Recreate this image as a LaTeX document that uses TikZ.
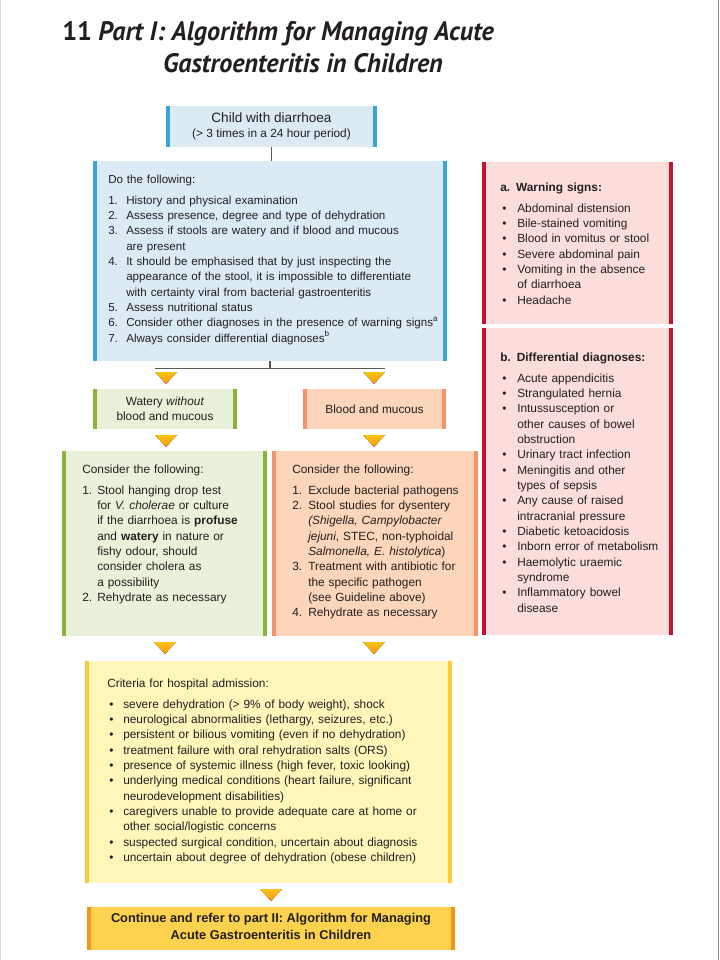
\documentclass[tikz,border=0pt]{standalone}
\usepackage{fontspec}
\setmainfont{Liberation Sans}
\newfontfamily\titlefont{PT Sans}
\usepackage{graphicx}
\usepackage{enumitem}
\usetikzlibrary{fit,calc,positioning}
\definecolor{aebluefill}{HTML}{DCEAF4}
\definecolor{aeblue}{HTML}{3AA6D6}
\definecolor{aegreenfill}{HTML}{EAF1DA}
\definecolor{aegreen}{HTML}{8CB43A}
\definecolor{aesalmonfill}{HTML}{FCD5BA}
\definecolor{aesalmon}{HTML}{F5936B}
\definecolor{aeyellowfill}{HTML}{FFF6BA}
\definecolor{aeyellow}{HTML}{FDCB3C}
\definecolor{aegoldfill}{HTML}{FDD24F}
\definecolor{aeorange}{HTML}{F7941D}
\definecolor{aepinkfill}{HTML}{FBDDDC}
\definecolor{aered}{HTML}{C4122F}
\definecolor{aetext}{HTML}{231F20}
\setlist[enumerate]{nosep, topsep=4.25pt, label=\arabic*., align=left, labelsep=0pt, labelindent=0pt}
\setlist[itemize]{nosep, topsep=4.25pt, label=\textbullet, align=left, labelsep=0pt}

\begin{document}
\begin{tikzpicture}[
  x=0.75pt, y=-0.75pt,
  panel/.style 2 args={fill=#1, inner sep=0pt, path picture={
      \fill[#2] (path picture bounding box.south west) rectangle ([xshift=3pt]path picture bounding box.north west);
      \fill[#2] (path picture bounding box.south east) rectangle ([xshift=-3pt]path picture bounding box.north east);}},
  txt/.style={inner sep=0pt, align=left, text=aetext, font=\fontsize{8.9}{11.5}\selectfont},
  link/.style={draw=black!65, line width=0.8pt},
  tri/.style={top color=aeorange!55!yellow, bottom color=aeorange},
  heading/.style={inner sep=0pt, text=aetext, font=\titlefont\bfseries\fontsize{20}{24}\selectfont}
]
\useasboundingbox (0,0) rectangle (720,960);
\fill[white] (0,0) rectangle (720,960);
\draw[black!15, line width=0.75pt] (0.5,0) -- (0.5,960);
\draw[black!45, line width=0.75pt] (718.5,0) -- (718.5,960);

% title
\node[heading, anchor=base west] (num) at (62,40) {\scalebox{0.98}[1]{11}};
\node[heading, anchor=base west] (title1) at (98,40) {\scalebox{0.98}[1]{\itshape Part I: Algorithm for Managing Acute}};
\node[heading, anchor=base] (title2) at (303,72) {\scalebox{0.98}[1]{\itshape Gastroenteritis in Children}};

% boxes
\node[panel={aebluefill}{aeblue}, fit={(166,106) (377,147)}] (child) {};
\node[panel={aebluefill}{aeblue}, fit={(93,161) (447,361)}] (todo) {};
\node[panel={aegreenfill}{aegreen}, fit={(93,389) (237,429)}] (watery) {};
\node[panel={aesalmonfill}{aesalmon}, fit={(303,389) (446,429)}] (blood) {};
\node[panel={aegreenfill}{aegreen}, fit={(62,451) (267,636)}] (conswat) {};
\node[panel={aesalmonfill}{aesalmon}, fit={(272,451) (478,636)}] (consblood) {};
\node[panel={aeyellowfill}{aeyellow}, fit={(85,661) (452,883)}] (criteria) {};
\node[panel={aegoldfill}{aeorange}, fit={(87,907) (455,950)}] (cont) {};
\node[panel={aepinkfill}{aered}, fit={(482,162) (673,324)}] (warn) {};
\node[panel={aepinkfill}{aered}, fit={(482,328) (673,635)}] (diff) {};

% connectors
\draw[link] (child) -- (child |- todo.north);
\draw[link] (todo.south) -- ++(0,7) coordinate (split);
\coordinate (t1) at (166,372);
\coordinate (t2) at (374,372);
\draw[link] ([xshift=-11*0.75pt]split -| t1) -- ([xshift=11*0.75pt]split -| t2);
\coordinate (t3) at (166,435);
\coordinate (t4) at (374,435);
\coordinate (t5) at (165,642);
\coordinate (t6) at (374,642);
\coordinate (t7) at (271,889);
\foreach \t in {t1,t2,t3,t4,t5,t6,t7}
  \fill[tri] (\t) +(-11,0) -- +(11,0) -- +(0,12) -- cycle;

% texts
\node[txt, align=center] (childtxt) at (child) {{\fontsize{10.2}{11.5}\selectfont Child with diarrhoea}\\(> 3 times in a 24 hour period)};

\node[txt, anchor=base west, text width=260pt, font=\fontsize{8.7}{11.5}\selectfont] (todotxt) at (108,183) {Do the following:
\begin{enumerate}[leftmargin=13.5pt, labelwidth=13.5pt]
\item History and physical examination
\item Assess presence, degree and type of dehydration
\item Assess if stools are watery and if blood and mucous\newline are present
\item It should be emphasised that by just inspecting the\newline appearance of the stool, it is impossible to differentiate\newline with certainty viral from bacterial gastroenteritis
\item Assess nutritional status
\item Consider other diagnoses in the presence of warning signs\textsuperscript{a}
\item Always consider differential diagnoses\textsuperscript{b}
\end{enumerate}};

\node[txt, align=center] (waterytxt) at (watery) {Watery \textit{without}\\blood and mucous};
\node[txt, align=center] (bloodtxt) at (blood) {Blood and mucous};

\node[txt, anchor=base west, text width=140pt] (conswattxt) at (82,473) {Consider the following:
\begin{enumerate}[leftmargin=11.25pt, labelwidth=11.25pt]
\item Stool hanging drop test\newline for \textit{V.\ cholerae} or culture\newline if the diarrhoea is \textbf{profuse}\newline and \textbf{watery} in nature or\newline fishy odour, should\newline consider cholera as\newline a possibility
\item Rehydrate as necessary
\end{enumerate}};

\node[txt, anchor=base west, text width=140pt] (consbloodtxt) at (292,473) {Consider the following:
\begin{enumerate}[leftmargin=12pt, labelwidth=12pt]
\item Exclude bacterial pathogens
\item Stool studies for dysentery\newline \textit{(Shigella, Campylobacter}\newline \textit{jejuni}, STEC, non-typhoidal\newline \textit{Salmonella, E.\ histolytica})
\item Treatment with antibiotic for\newline the specific pathogen\newline (see Guideline above)
\item Rehydrate as necessary
\end{enumerate}};

\node[txt, anchor=base west, text width=260pt] (criteriatxt) at (107,687) {Criteria for hospital admission:
\begin{itemize}[leftmargin=12pt, labelindent=1.5pt, labelwidth=10.5pt]
\item severe dehydration (> 9\% of body weight), shock
\item neurological abnormalities (lethargy, seizures, etc.)
\item persistent or bilious vomiting (even if no dehydration)
\item treatment failure with oral rehydration salts (ORS)
\item presence of systemic illness (high fever, toxic looking)
\item underlying medical conditions (heart failure, significant\newline neurodevelopment disabilities)
\item caregivers unable to provide adequate care at home or\newline other social/logistic concerns
\item suspected surgical condition, uncertain about diagnosis
\item uncertain about degree of dehydration (obese children)
\end{itemize}};

\node[txt, align=center, font=\fontsize{9.6}{12.5}\selectfont\bfseries] (conttxt) at ([yshift=1.5pt]cont) {Continue and refer to part II: Algorithm for Managing\\Acute Gastroenteritis in Children};

\node[txt, anchor=base west, text width=130pt] (warntxt) at (500,191) {\textbf{a. Warning signs:}
\begin{itemize}[leftmargin=12.75pt, labelindent=1.5pt, labelwidth=11.25pt]
\item Abdominal distension
\item Bile-stained vomiting
\item Blood in vomitus or stool
\item Severe abdominal pain
\item Vomiting in the absence\newline of diarrhoea
\item Headache
\end{itemize}};

\node[txt, anchor=base west, text width=130pt] (difftxt) at (500,361) {\textbf{b. Differential diagnoses:}
\begin{itemize}[leftmargin=12.75pt, labelindent=1.5pt, labelwidth=11.25pt]
\item Acute appendicitis
\item Strangulated hernia
\item Intussusception or\newline other causes of bowel\newline obstruction
\item Urinary tract infection
\item Meningitis and other\newline types of sepsis
\item Any cause of raised\newline intracranial pressure
\item Diabetic ketoacidosis
\item Inborn error of metabolism
\item Haemolytic uraemic\newline syndrome
\item Inflammatory bowel\newline disease
\end{itemize}};

\end{tikzpicture}
\end{document}
